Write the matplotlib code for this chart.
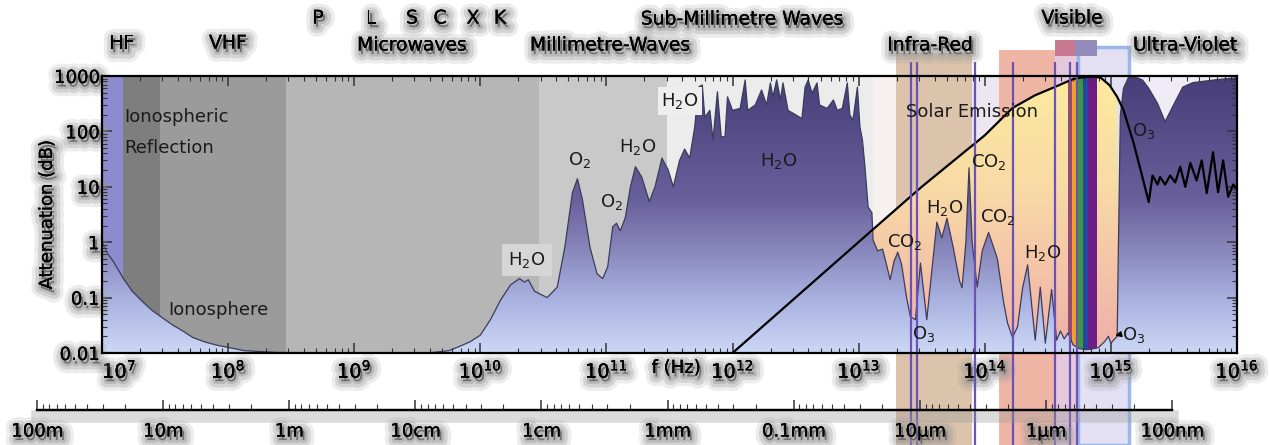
import numpy as np
import matplotlib
matplotlib.use('Agg')
import matplotlib.pyplot as plt
from matplotlib.colors import LinearSegmentedColormap
from matplotlib.patches import Polygon, Rectangle
import matplotlib.patheffects as pe
from matplotlib.ticker import LogLocator, NullFormatter

# ---------------- data ----------------
# Atmospheric attenuation: log10(frequency / Hz) and attenuation in dB
hf_logf = [7.00, 7.04, 7.09, 7.17, 7.24, 7.32, 7.40, 7.48, 7.56, 7.64, 7.72, 7.81,
           7.90, 7.97, 8.13, 8.40, 9.00, 9.60, 9.75, 9.83, 9.92]
hf_db = [1.0, 0.65, 0.45, 0.22, 0.13, 0.085, 0.058, 0.043, 0.032, 0.025, 0.019, 0.016,
         0.014, 0.013, 0.011, 0.0102, 0.0100, 0.0101, 0.011, 0.013, 0.016]

mw_logf = [10.00, 10.08, 10.16, 10.24, 10.31, 10.35, 10.38, 10.43, 10.53, 10.61, 10.67,
           10.73, 10.77, 10.81, 10.87, 10.925, 10.97, 11.01, 11.05, 11.08, 11.11, 11.15,
           11.19, 11.23, 11.28, 11.34, 11.385, 11.44, 11.49, 11.53, 11.58, 11.62, 11.66]
mw_db = [0.021, 0.04, 0.09, 0.17, 0.22, 0.19, 0.21, 0.13, 0.10, 0.155, 0.81,
         7.8, 14, 5.8, 0.8, 0.27, 0.22, 0.36, 1.9, 2.2, 1.6, 2.8,
         10, 23, 15, 5.4, 10, 33, 20, 10, 30, 48, 33]

submm_logf = [11.70, 11.73, 11.76, 11.78, 11.82, 11.845, 11.88, 11.91, 11.94, 11.96, 12.00,
              12.06, 12.10, 12.12, 12.18, 12.23, 12.27, 12.30, 12.32, 12.35, 12.38, 12.40,
              12.44, 12.50, 12.55, 12.575, 12.60, 12.63, 12.67, 12.69, 12.75, 12.80, 12.83,
              12.87, 12.91, 12.93, 12.955, 12.99, 13.01, 13.03, 13.05, 13.075, 13.105]
submm_db = [120, 630, 690, 180, 240, 70, 520, 80, 80, 420, 240,
            260, 850, 240, 300, 560, 300, 750, 420, 850, 370, 750,
            240, 200, 170, 630, 850, 490, 750, 300, 260, 370, 240,
            260, 750, 200, 160, 630, 120, 70, 23, 4.3, 3.4]

ir_logf = [13.114, 13.15, 13.19, 13.22, 13.25, 13.28, 13.31, 13.34, 13.38, 13.41, 13.45,
           13.49, 13.52, 13.54, 13.58, 13.62, 13.66, 13.70, 13.75, 13.80, 13.82, 13.85,
           13.875, 13.90, 13.94, 13.98, 14.03, 14.07, 14.10, 14.15, 14.18, 14.22, 14.26,
           14.30, 14.34, 14.37, 14.40, 14.44, 14.48, 14.53, 14.57, 14.60, 14.63, 14.66,
           14.70, 14.75, 14.80, 14.85, 14.90, 14.95, 14.98, 15.00, 15.03, 15.05, 15.06]
ir_db = [1.1, 0.7, 0.75, 0.4, 0.21, 0.45, 0.66, 0.4, 0.1, 0.045, 0.04,
         0.42, 0.1, 0.04, 0.3, 2.3, 1.2, 2.7, 0.8, 0.2, 0.15, 1.0,
         22, 1.0, 0.155, 0.7, 1.5, 0.81, 0.5, 0.08, 0.035, 0.019, 0.03,
         0.15, 0.39, 0.08, 0.017, 0.155, 0.015, 0.14, 0.017, 0.025, 0.018, 0.023,
         0.014, 0.012, 0.0115, 0.0118, 0.0125, 0.016, 0.02, 0.015, 0.018, 0.02, 1.0]

uv_logf = [15.075, 15.10, 15.14, 15.18, 15.25, 15.30, 15.37, 15.43, 15.49, 15.57, 15.65,
           15.84, 16.00]
uv_db = [200, 600, 950, 980, 850, 600, 320, 150, 280, 630, 760, 860, 930]

# Solar emission curve
solar_logf = [12.0, 13.1, 13.5, 14.0, 14.22, 14.4, 14.56, 14.70, 14.78, 14.86, 14.92,
              14.99, 15.05, 15.10, 15.18, 15.25, 15.30, 15.33, 15.37, 15.39, 15.43,
              15.47, 15.51, 15.55, 15.59, 15.63, 15.68, 15.72, 15.76, 15.81, 15.85,
              15.89, 15.93, 15.97, 16.0]
solar_db = [0.01, 1.6, 10, 85, 265, 450, 640, 880, 950, 980, 930,
            680, 420, 243, 62, 15, 5.3, 16, 11, 15, 11,
            16, 12, 23, 10, 27, 13, 30, 7.7, 42, 8,
            30, 6.6, 11, 9]

# Axes ticks
freq_tick_exp = [7, 8, 9, 10, 11, 12, 13, 14, 15, 16]
y_ticks = [0.01, 0.1, 1, 10, 100, 1000]
y_tick_labels = ['0.01', '0.1', '1', '10', '100', '1000']
wl_ticks_m = [100, 10, 1, 0.1, 0.01, 1e-3, 1e-4, 1e-5, 1e-6, 1e-7]
wl_tick_labels = ['100m', '10m', '1m', '10cm', '1cm', '1mm', '0.1mm', '10µm', '1µm', '100nm']

# Background regions (Hz) inside the plot
band_edges_hz = [1e7, 1.47e7, 2.9e7, 2.9e8, 2.9e10, 3e11, 1.3e13, 1.96e13, 7.9e13,
                 1.3e14, 3.6e14, 5.5e14, 1.4e15, 1e16]
band_colors = ['#8e8ad0', '#7e7e7e', '#9b9b9b', '#b6b6b6', '#c9c9c9', '#ececec', '#f6f0ee',
               '#dcc3ab', '#ebe6f0', '#efb6a6', '#e6c8dc', '#e4e0f4', '#f0ecf6']
# Regions that continue above / below the plot
ext_bands_hz = [(1.96e13, 7.9e13), (1.3e14, 3.6e14), (3.6e14, 5.5e14), (5.5e14, 1.4e15)]
ext_band_colors = ['#dcc3ab', '#efb6a6', '#e6c8dc', '#e4e0f4']
ext_band_top_px = [53, 50, 47, 47]

# Visible spectrum stripes
rainbow_edges_hz = [4.57e14, 4.9e14, 5.4e14, 6.0e14, 6.6e14, 7.8e14]
rainbow_colors = ['#c0441e', '#f2a12a', '#3c9a3a', '#2a44a4', '#6c1e86']

# Atmospheric window markers
window_lines_hz = [2.6e13, 2.9e13, 8.3e13, 1.66e14, 3.6e14, 4.7e14, 5.4e14]

# ---------------- figure ----------------
W, H = 1270, 445
plt.rcParams['font.family'] = ['DejaVu Sans']
fig = plt.figure(figsize=(12.7, 4.45), dpi=100)


def fx(x):
    return x / W


def fy(y):
    return 1 - y / H


ax = fig.add_axes([fx(102), fy(353), (1237 - 102) / W, (353 - 76) / H])
ax.set_xscale('log')
ax.set_yscale('log')
ax.set_xlim(1e7, 1e16)
ax.set_ylim(0.01, 1000)
ax.autoscale(False)


def yax(ypx):
    return (353 - ypx) / 277.0


xt = ax.get_xaxis_transform()

for i, col in enumerate(band_colors):
    ax.axvspan(band_edges_hz[i], band_edges_hz[i + 1], color=col, lw=0, zorder=0.3)

for (lo, hi), col, top in zip(ext_bands_hz, ext_band_colors, ext_band_top_px):
    ax.add_patch(Rectangle((lo, yax(445)), hi - lo, yax(top) - yax(445), transform=xt,
                           facecolor=col, edgecolor='none', clip_on=False, zorder=0.35))
# blue outline of the visible box
ax.add_patch(Rectangle((5.5e14, yax(445)), 1.4e15 - 5.5e14, yax(47) - yax(445), transform=xt,
                       facecolor='none', edgecolor='#9ab8e6', lw=2.5, clip_on=False, zorder=0.36))
# small boxes at top of visible band
ax.add_patch(Rectangle((3.6e14, yax(56)), 5.2e14 - 3.6e14, yax(40) - yax(56), transform=xt,
                       facecolor='#c97a92', edgecolor='none', clip_on=False, zorder=0.37))
ax.add_patch(Rectangle((5.2e14, yax(56)), 7.8e14 - 5.2e14, yax(40) - yax(56), transform=xt,
                       facecolor='#938bb9', edgecolor='none', clip_on=False, zorder=0.37))

# attenuation curve
att_f = 10 ** np.array(hf_logf + mw_logf + submm_logf + ir_logf + uv_logf)
att_db = np.array(hf_db + mw_db + submm_db + ir_db + uv_db)

att_poly = Polygon(np.vstack([np.column_stack([att_f, att_db]),
                              [[1e16, 0.005], [1e7, 0.005]]]),
                   closed=True, facecolor='none', edgecolor='none', transform=ax.transData)
ax.add_patch(att_poly)

grad = np.linspace(0, 1, 512).reshape(-1, 1)
cmap_att = LinearSegmentedColormap.from_list('att', [
    (0.0, '#ccd8f6'), (0.19, '#a9b2e0'), (0.34, '#8e8ec2'), (0.55, '#6a619c'),
    (0.91, '#4d4480'), (1.0, '#483d7a')])
im1 = ax.imshow(grad, cmap=cmap_att, origin='lower', extent=(0, 1, 0, 1),
                transform=ax.transAxes, aspect='auto', zorder=1.0, interpolation='bilinear')
im1.set_clip_path(att_poly)

# solar emission fill (above attenuation, below solar curve)
s_f = 10 ** np.array(solar_logf)
s_db = np.array(solar_db)
s_lf = np.array(solar_logf)
a_lf = np.log10(att_f)
sel_s = (s_lf >= 13.1) & (s_lf <= 15.05)
sel_a = (a_lf >= 13.114) & (a_lf <= 15.06)
sol_verts = np.vstack([np.column_stack([s_f[sel_s], s_db[sel_s]]),
                       np.column_stack([att_f[sel_a], att_db[sel_a]])[::-1]])
sol_poly = Polygon(sol_verts, closed=True, facecolor='none', edgecolor='none',
                   transform=ax.transData)
ax.add_patch(sol_poly)
cmap_sol = LinearSegmentedColormap.from_list('sol', [
    (0.0, '#eeb0a8'), (0.3, '#f4c4a8'), (0.6, '#f8daa6'), (1.0, '#fcea9e')])
im2 = ax.imshow(grad, cmap=cmap_sol, origin='lower', extent=(0, 1, 0, 1),
                transform=ax.transAxes, aspect='auto', zorder=1.1, interpolation='bilinear')
im2.set_clip_path(sol_poly)

for i, col in enumerate(rainbow_colors):
    r = Rectangle((rainbow_edges_hz[i], 0.005), rainbow_edges_hz[i + 1] - rainbow_edges_hz[i],
                  5000, facecolor=col, edgecolor='none', zorder=1.2)
    ax.add_patch(r)
    r.set_clip_path(sol_poly)

ax.plot(att_f, att_db, color='#3c3c5a', lw=0.9, zorder=1.5)
ax.plot(s_f, s_db, color='black', lw=1.6, zorder=1.6)

# atmospheric window lines
ax.vlines(window_lines_hz, yax(445), yax(62), transform=xt, colors='#6b52b5', lw=1.6,
          clip_on=False, zorder=1.7)

# axes styling
for s in ax.spines.values():
    s.set_linewidth(1.6)
    s.set_zorder(3)
ax.set_xticks([10.0 ** e for e in freq_tick_exp])
ax.set_xticklabels([f'$10^{{{e}}}$' for e in freq_tick_exp], fontsize=14)
ax.set_yticks(y_ticks)
ax.set_yticklabels(y_tick_labels, fontsize=13)
ax.xaxis.set_minor_locator(LogLocator(base=10, subs=np.arange(2, 10), numticks=50))
ax.yaxis.set_minor_locator(LogLocator(base=10, subs=np.arange(2, 10), numticks=50))
ax.xaxis.set_minor_formatter(NullFormatter())
ax.yaxis.set_minor_formatter(NullFormatter())
ax.tick_params(which='both', direction='in', top=True, right=True, color='#333333')
ax.tick_params(which='major', length=7, width=1.1)
ax.tick_params(which='minor', length=3.5, width=0.8)
ax.tick_params(axis='x', which='major', pad=5)
ax.tick_params(axis='y', which='major', pad=2)
ax.get_xticklabels()[0].set_horizontalalignment('left')

halo = [pe.withStroke(linewidth=14, foreground='#9a9a9a', alpha=0.18, offset=(1.5, -2.5)),
        pe.withStroke(linewidth=9, foreground='#9a9a9a', alpha=0.3, offset=(1.5, -2.5)),
        pe.withStroke(linewidth=4, foreground='#9a9a9a', alpha=0.45, offset=(1.5, -2.5)),
        pe.Normal()]
for lab in ax.get_xticklabels() + ax.get_yticklabels():
    lab.set_path_effects(halo)

# wavelength axis
ax2 = fig.add_axes([fx(37), fy(410), (1172 - 37) / W, 0.0001])
ax2.set_xscale('log')
ax2.set_xlim(100, 1e-7)
ax2.patch.set_alpha(0)
for s in ['left', 'right', 'top']:
    ax2.spines[s].set_visible(False)
ax2.spines['bottom'].set_linewidth(1.6)
ax2.spines['bottom'].set_path_effects([
    pe.withStroke(linewidth=9, foreground='#9a9a9a', alpha=0.35, offset=(0, -4)),
    pe.Normal()])
ax2.set_yticks([])
ax2.set_xticks(wl_ticks_m)
ax2.set_xticklabels(wl_tick_labels, fontsize=13)
ax2.xaxis.set_minor_locator(LogLocator(base=10, subs=np.arange(2, 10), numticks=50))
ax2.xaxis.set_minor_formatter(NullFormatter())
ax2.tick_params(axis='x', which='both', direction='in', color='#333333', pad=9)
ax2.tick_params(axis='x', which='major', length=7, width=1.1)
ax2.tick_params(axis='x', which='minor', length=4, width=0.8)
for lab in ax2.get_xticklabels():
    lab.set_path_effects(halo)

# ---------------- labels ----------------
top_labels = [('HF', 122, 43), ('VHF', 228, 43), ('P', 318, 18), ('L', 371, 18),
              ('S', 412, 18), ('C', 440, 18), ('X', 473, 18), ('K', 500, 18),
              ('Microwaves', 412, 45), ('Millimetre-Waves', 610, 45),
              ('Sub-Millimetre Waves', 742, 19), ('Infra-Red', 930, 45),
              ('Visible', 1072, 18), ('Ultra-Violet', 1185, 45)]
for t, x, y in top_labels:
    fig.text(fx(x), fy(y), t, ha='center', va='center', fontsize=13.5, path_effects=halo)

fig.text(fx(47), fy(215), 'Attenuation (dB)', rotation=90, ha='center', va='center',
         fontsize=13, path_effects=halo)
fig.text(fx(676), fy(368), 'f (Hz)', ha='center', va='center', fontsize=13, path_effects=halo)

inner_labels = [('Ionospheric', 124, 117, 'left'), ('Reflection', 124, 148, 'left'),
                ('Ionosphere', 218, 310, 'center'), ('O$_2$', 580, 160, 'center'),
                ('O$_2$', 612, 202, 'center'), ('H$_2$O', 638, 147, 'center'),
                ('H$_2$O', 779, 161, 'center'), ('Solar Emission', 972, 112, 'center'),
                ('CO$_2$', 989, 162, 'center'), ('H$_2$O', 945, 208, 'center'),
                ('CO$_2$', 998, 217, 'center'), ('CO$_2$', 905, 242, 'center'),
                ('H$_2$O', 1043, 253, 'center'), ('O$_3$', 924, 334, 'center'),
                ('O$_3$', 1144, 131, 'center'), ('O$_3$', 1134, 335, 'center')]
for t, x, y, ha in inner_labels:
    fig.text(fx(x), fy(y), t, ha=ha, va='center', fontsize=13, color='#1a1a1a')

fig.text(fx(527), fy(260), 'H$_2$O', ha='center', va='center', fontsize=13, color='#1a1a1a',
         bbox=dict(boxstyle='square,pad=0.35', facecolor='#d6d6d6', edgecolor='none'))
fig.text(fx(680), fy(101), 'H$_2$O', ha='center', va='center', fontsize=13, color='#1a1a1a',
         bbox=dict(boxstyle='square,pad=0.2', facecolor='#eeeeee', edgecolor='none'))

ax.annotate('', xy=(1.03e15, 0.02), xytext=(1.22e15, 0.022),
            arrowprops=dict(arrowstyle='-|>', color='black', lw=1.2, mutation_scale=8),
            zorder=4)

fig.savefig('out.png', dpi=100, facecolor='white')
